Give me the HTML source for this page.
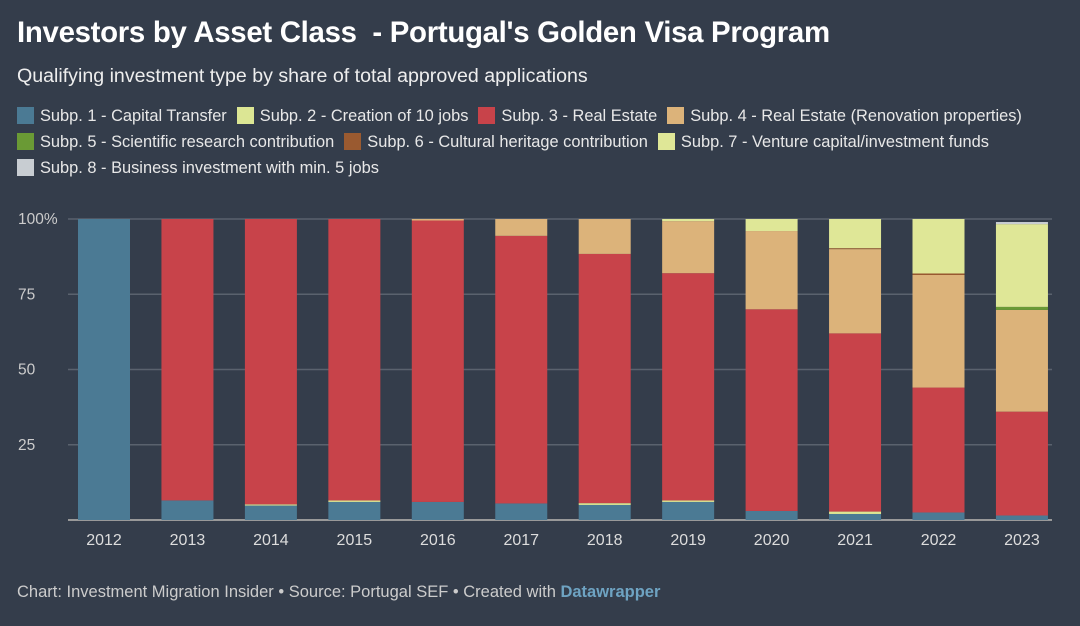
<!DOCTYPE html>
<html><head><meta charset="utf-8">
<style>
body{margin:0;width:1080px;height:626px;background:#343d4b;font-family:"Liberation Sans",sans-serif;color:#fff;overflow:hidden;position:relative}
#title{position:absolute;left:17px;top:16px;font-size:29.4px;font-weight:bold;letter-spacing:-0.3px}
#sub{position:absolute;left:17px;top:65px;font-size:19.6px;color:#eee}
#legend{position:absolute;left:17px;top:103px;width:1060px;font-size:16.4px;color:#e8e8e8;line-height:26px}
.le{display:inline-block;margin-right:10px;white-space:nowrap}
.sw{display:inline-block;width:17px;height:17px;vertical-align:-3px;margin-right:6px}
#foot{position:absolute;left:17px;top:583px;font-size:16.5px;color:#ccc}
#foot b{color:#6ea3c2}
svg{position:absolute;left:0;top:0}
</style></head><body>
<div id="title">Investors by Asset Class&nbsp; - Portugal's Golden Visa Program</div>
<div id="sub">Qualifying investment type by share of total approved applications</div>
<div id="legend"></div>
<svg id="chart" width="1080" height="626"></svg>
<div id="foot">Chart: Investment Migration Insider • Source: Portugal SEF • Created with <b>Datawrapper</b></div>
<script>
const years=["2012","2013","2014","2015","2016","2017","2018","2019","2020","2021","2022","2023"];
const seriesNames=["Subp. 1 - Capital Transfer","Subp. 2 - Creation of 10 jobs","Subp. 3 - Real Estate","Subp. 4 - Real Estate (Renovation properties)","Subp. 5 - Scientific research contribution","Subp. 6 - Cultural heritage contribution","Subp. 7 - Venture capital/investment funds","Subp. 8 - Business investment with min. 5 jobs"];
const colors=["#4b7a94","#dce694","#c8434a","#dcb37a","#6a9a35","#9a5a30","#dfe797","#c8cdd2"];
const s1=[100,6.5,4.8,6,6,5.5,5,6,3,2,2.5,1.5];
const s2=[0,0,0.4,0.5,0,0,0.6,0.5,0,0.8,0,0];
const s3=[0,93.5,94.8,93.5,93.5,88.9,82.8,75.5,67,59.2,41.5,34.5];
const s4=[0,0,0,0,0.5,5.6,11.6,17.3,26,28,37.4,33.8];
const s5=[0,0,0,0,0,0,0,0,0,0,0,1];
const s6=[0,0,0,0,0,0,0,0,0,0.3,0.5,0];
const s7=[0,0,0,0,0,0,0,0.7,4,9.7,18.1,27.5];
const s8=[0,0,0,0,0,0,0,0,0,0,0,0.7];
const series=[s1,s2,s3,s4,s5,s6,s7,s8];
const yTicks=[0,25,50,75,100];
const yTickLabels=["","25","50","75","100%"];

const leg=document.getElementById('legend');
seriesNames.forEach((n,i)=>{
  const d=document.createElement('span');d.className='le';
  
  
  d.innerHTML='<span class="sw" style="background:'+colors[i]+'"></span>'+n;
  leg.appendChild(d);
});
const svg=document.getElementById('chart');const NS='http://www.w3.org/2000/svg';
const y0=520,y1=219,xL=68,xR=1052;
const yS=v=>y0-(v/100)*(y0-y1);
const xC=i=>104+i*83.45;const bw=52;
function el(t,a){const e=document.createElementNS(NS,t);for(const k in a)e.setAttribute(k,a[k]);svg.appendChild(e);return e;}
yTicks.forEach((t,i)=>{
  const l=el('line',{x1:xL,x2:xR,y1:yS(t),y2:yS(t),stroke:t==0?'#999':'#5a626e','stroke-width':t==0?2:1.5});
  
  
  if(yTickLabels[i]){const tx=el('text',{x:18,y:yS(t)+5,fill:'#ccc','font-size':15.5});
  tx.textContent=yTickLabels[i];
  
  }
});
years.forEach((yr,i)=>{
  let acc=0;
  series.forEach((s,k)=>{
    const v=s[i];if(v<=0)return;
    const r=el('rect',{x:xC(i)-bw/2,y:yS(acc+v),width:bw,height:yS(acc)-yS(acc+v),fill:colors[k]});
    
    
    acc+=v;
  });
  const tx=el('text',{x:xC(i),y:545,fill:'#ddd','font-size':16,'text-anchor':'middle'});
  tx.textContent=yr;
  
  
});
</script>
</body></html>
